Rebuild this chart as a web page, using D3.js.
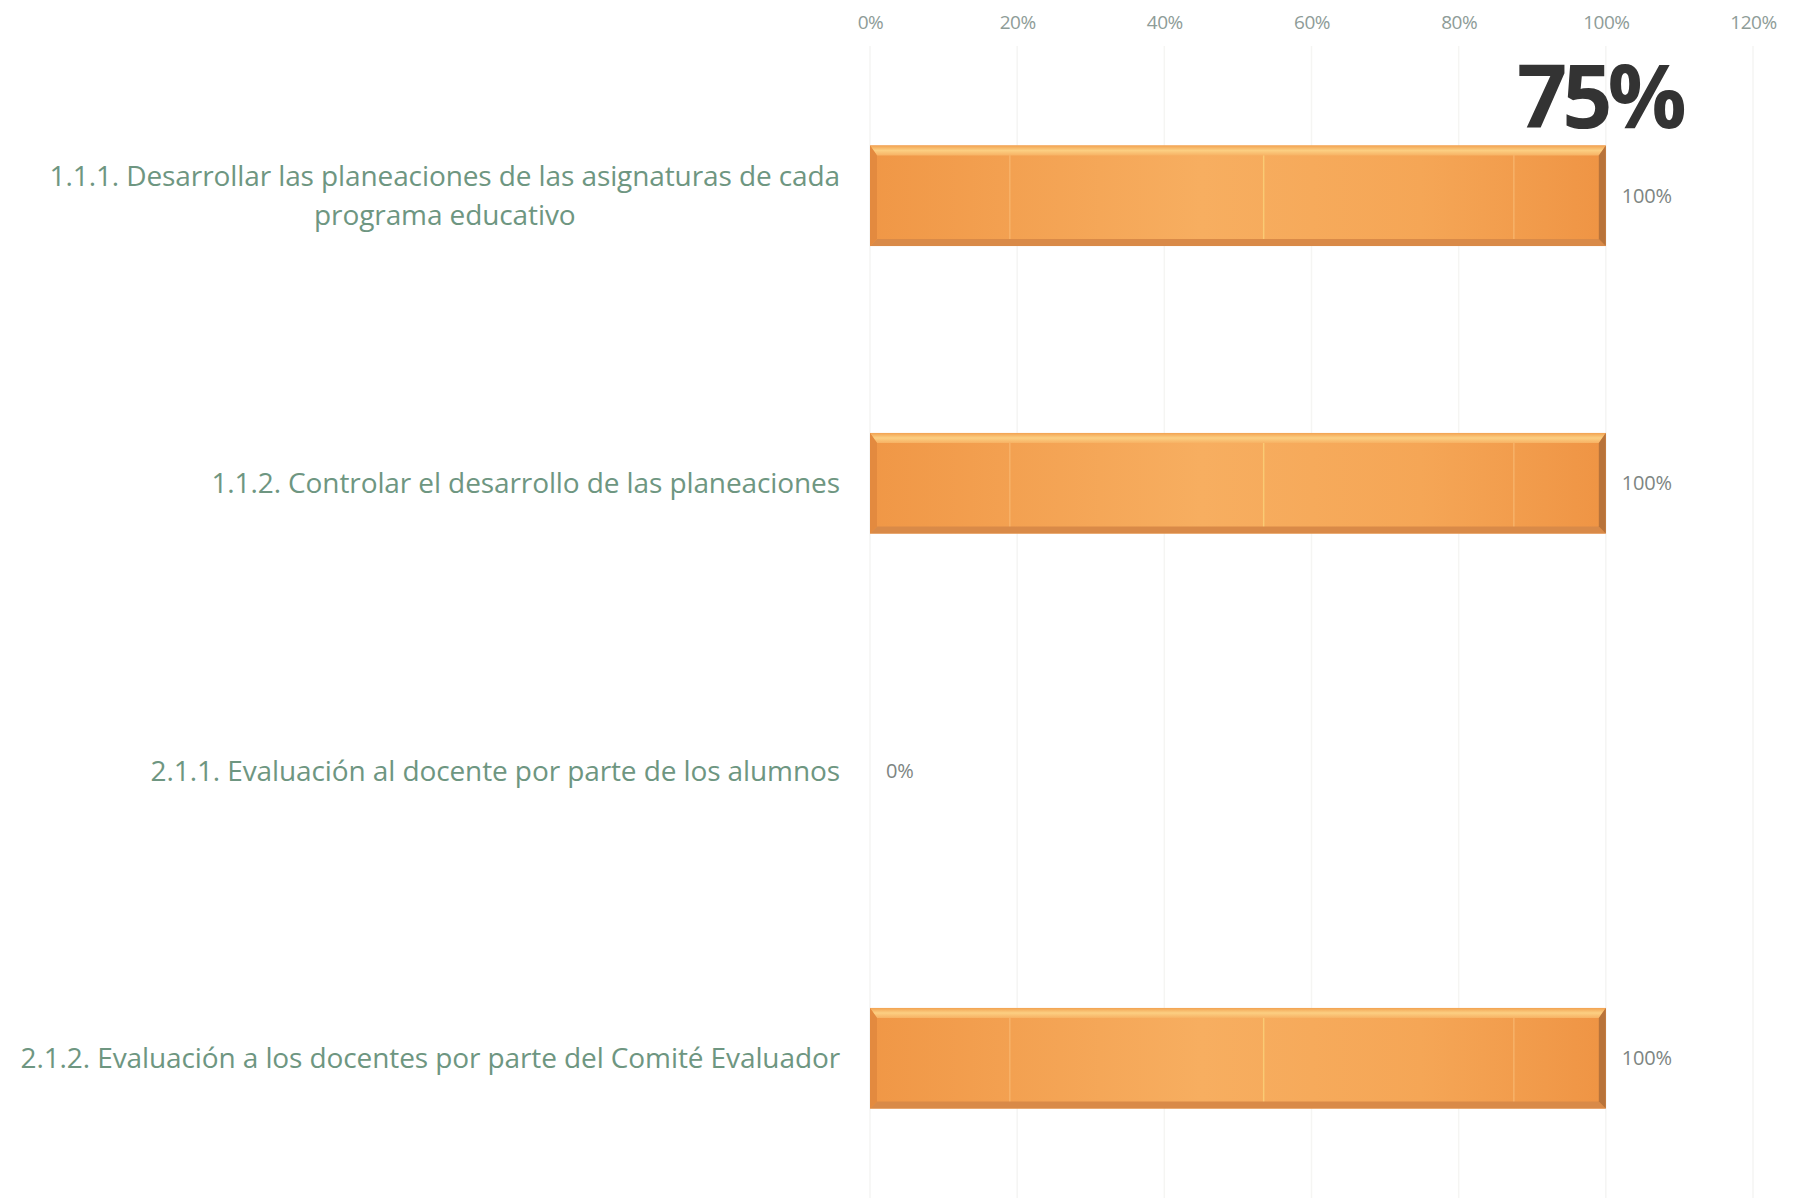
<!DOCTYPE html>
<html><head><meta charset="utf-8">
<script src="https://cdn.jsdelivr.net/npm/d3@7"></script>
<style>html,body{margin:0;padding:0;background:#fff;}svg{display:block;}</style>
</head><body>
<svg id="chart" width="1796" height="1198"></svg>
<script>
const categories = [
  "1.1.1. Desarrollar las planeaciones de las asignaturas de cada|programa educativo",
  "1.1.2. Controlar el desarrollo de las planeaciones",
  "2.1.1. Evaluación al docente por parte de los alumnos",
  "2.1.2. Evaluación a los docentes por parte del Comité Evaluador"
];
const values = [1.0, 1.0, 0.0, 1.0];
const tickValues = [0, 0.2, 0.4, 0.6, 0.8, 1.0, 1.2];
const totalLabel = "75%";

const svg = d3.select("#chart");
const W = 1796, H = 1198;
const m = {left: 870, right: 43, top: 52, bottom: -4};
const x = d3.scaleLinear().domain([0, 1.2]).range([m.left, W - m.right]);
const y = d3.scaleBand().domain(categories).range([m.top, H - m.bottom]).paddingInner(0.65).paddingOuter(0.325);

const defs = svg.append("defs");
const g1 = defs.append("linearGradient").attr("id","barH").attr("x1","0").attr("x2","1").attr("y1","0").attr("y2","0");
g1.append("stop").attr("offset","0").attr("stop-color","#f09746");
g1.append("stop").attr("offset","0.45").attr("stop-color","#f7ae60");
g1.append("stop").attr("offset","0.75").attr("stop-color","#f5a656");
g1.append("stop").attr("offset","1").attr("stop-color","#ef9444");
const g2 = defs.append("linearGradient").attr("id","barTop").attr("x1","0").attr("x2","0").attr("y1","0").attr("y2","1");
g2.append("stop").attr("offset","0").attr("stop-color","#f2a251");
g2.append("stop").attr("offset","0.5").attr("stop-color","#fccf82");
g2.append("stop").attr("offset","1").attr("stop-color","#f7b264");

// gridlines
svg.append("g").selectAll("line").data(tickValues).join("line")
  .attr("x1", d => x(d)).attr("x2", d => x(d))
  .attr("y1", 46).attr("y2", H)
  .attr("stroke", "#f5f5f3").attr("stroke-width", 1.5);

// top axis
const axis = d3.axisTop(x).tickValues(tickValues).tickFormat(d3.format(".0%")).tickSize(0).tickPadding(0);
const ag = svg.append("g").attr("transform","translate(0,29)").call(axis);
ag.select(".domain").remove();
ag.selectAll("text").attr("fill","#8e9c98").style("font-family","'Open Sans', sans-serif").style("font-size","19px").style("letter-spacing","-0.5px");

// bars
const bars = svg.append("g").selectAll("g").data(categories.map((c,i)=>({c, v: values[i]}))).join("g");
const seams = [0.19, 0.535, 0.875];
bars.each(function(d){
  if (d.v <= 0) return;
  const gg = d3.select(this);
  const x0 = x(0), x1 = x(d.v), y0 = y(d.c), h = y.bandwidth(), b = 7;
  gg.append("rect").attr("x", x0).attr("y", y0).attr("width", x1-x0).attr("height", h).attr("fill","url(#barH)");
  // faint texture seams
  gg.selectAll("line.gl").data(seams).join("line")
    .attr("x1", f => x0 + f*(x1-x0)).attr("x2", f => x0 + f*(x1-x0)).attr("y1", y0+1).attr("y2", y0+h-1)
    .attr("stroke", (f,i) => i === 1 ? "#fbd27a" : "#f8b870").attr("stroke-width", 1.5).attr("opacity", 0.8);
  // top bevel
  gg.append("path").attr("d", `M${x0},${y0}L${x1},${y0}L${x1-b},${y0+b+3}L${x0+b},${y0+b+3}Z`).attr("fill","url(#barTop)");
  // bottom bevel
  gg.append("path").attr("d", `M${x0},${y0+h}L${x1},${y0+h}L${x1-b},${y0+h-b}L${x0+b},${y0+h-b}Z`).attr("fill","#d98a48");
  // left bevel
  gg.append("path").attr("d", `M${x0},${y0}L${x0+b},${y0+b+3}L${x0+b},${y0+h-b}L${x0},${y0+h}Z`).attr("fill","#e38a3f");
  // right bevel
  gg.append("path").attr("d", `M${x1},${y0}L${x1-b},${y0+b+3}L${x1-b},${y0+h-b}L${x1},${y0+h}Z`).attr("fill","#b8733a");
});

// data labels
svg.append("g").selectAll("text").data(categories.map((c,i)=>({c, v: values[i]}))).join("text")
  .attr("x", d => x(d.v) + 16).attr("y", d => y(d.c) + y.bandwidth()/2)
  .attr("dy","0.35em").attr("fill","#7d8582")
  .style("font-family","'Open Sans', sans-serif").style("font-size","20px").style("letter-spacing","-0.2px")
  .text(d => d3.format(".0%")(d.v));

// category labels
const labelRight = x(0) - 30;
const lg = svg.append("g");
categories.forEach(c => {
  const lines = c.split("|");
  const cy = y(c) + y.bandwidth()/2;
  const lh = 39;
  const t = lg.append("g");
  const texts = lines.map((ln, i) => t.append("text")
    .attr("y", cy + (i - (lines.length-1)/2) * lh).attr("dy","0.35em")
    .attr("fill","#6e9681")
    .style("font-family","'Open Sans', sans-serif").style("font-size","28px").style("letter-spacing","-0.1px")
    .text(ln));
  const widths = texts.map(tx => tx.node().getComputedTextLength());
  const maxW = Math.max(...widths);
  const cx = labelRight - maxW/2;
  texts.forEach(tx => tx.attr("x", cx).attr("text-anchor","middle"));
});

// total label
svg.append("text").attr("x", x(1.0) + 76).attr("y", 128).attr("text-anchor","end")
  .attr("fill","#333333").style("font-family","'Open Sans', sans-serif").style("font-weight","700")
  .style("font-size","88px").style("letter-spacing","-5px").text(totalLabel);
</script>
</body></html>
